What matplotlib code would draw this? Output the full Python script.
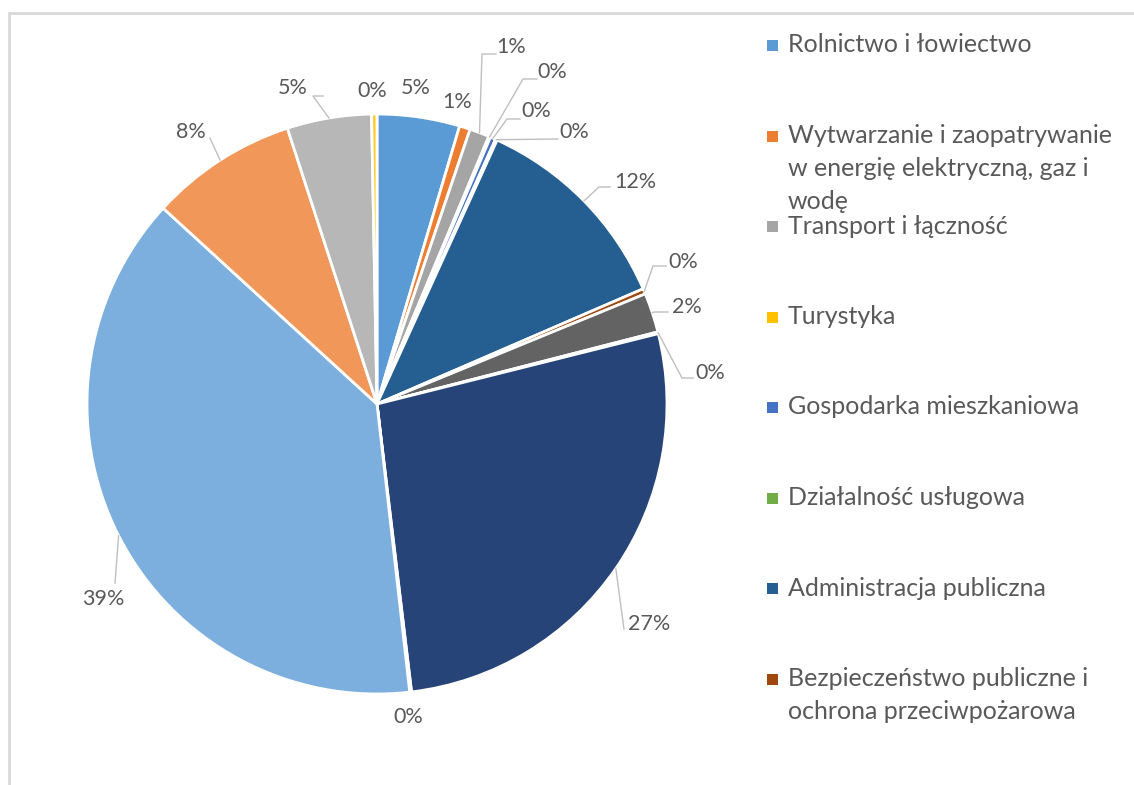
import numpy as np
import matplotlib.pyplot as plt
from matplotlib.patches import Rectangle

# slice shares in %, clockwise from 12 o'clock
values = [4.6, 0.6, 1.1, 0.1, 0.3, 0.1, 11.7, 0.3, 2.2, 0.1, 27.0, 0.1, 38.6, 8.2, 4.7, 0.3]
colors = ['#5B9BD5', '#ED7D31', '#A5A5A5', '#FFC000', '#4472C4', '#70AD47',
          '#255E91', '#9E480E', '#636363', '#997300', '#264478', '#43682B',
          '#7CAFDD', '#F1975A', '#B7B7B7', '#FFCD33']
# only the first eight entries fit in the legend
legend_labels = ['Rolnictwo i łowiectwo',
                 'Wytwarzanie i zaopatrywanie\nw energię elektryczną, gaz i\nwodę',
                 'Transport i łączność',
                 'Turystyka',
                 'Gospodarka mieszkaniowa',
                 'Działalność usługowa',
                 'Administracja publiczna',
                 'Bezpieczeństwo publiczne i\nochrona przeciwpożarowa']

W, H = 1134, 785
CX, CY, R = 377, 404, 290
TXT = '#595959'
LINE = '#BFBFBF'

# label centre (image px) and leader-line points from label side (image px)
label_pos = [(416, 88), (457, 102), (511, 47), (552, 72), (536, 111), (574, 132),
             (635, 182), (683, 262), (687, 307), (710, 373), (649, 624), (408, 717),
             (103, 599), (191, 132), (293, 88), (372, 91)]
leaders = [None, None, [(496, 54), (482, 54)], [(537, 79), (523, 79)],
           [(520, 119), (507, 119)], [(558, 139)], [(610, 187), (599, 187)],
           [(666, 266), (653, 266)], [(668, 312), (654, 312)], [(693, 378), (682, 378)],
           [(624, 629)], None, [(115, 583)], [(210, 138)],
           [(323, 96), (313, 96)], None]

plt.rcParams['font.family'] = ['Lato', 'DejaVu Sans']

fig = plt.figure(figsize=(W / 100, H / 100), dpi=100)
fig.patches.append(Rectangle((9 / W, -0.1), 1.2, (H - 13) / H + 0.1, transform=fig.transFigure,
                             fill=False, edgecolor='#D9D9D9', linewidth=2))

ax = fig.add_axes([(CX - R) / W, (H - CY - R) / H, 2 * R / W, 2 * R / H])
wedges, _ = ax.pie(values, colors=colors, startangle=90, counterclock=False,
                   radius=1, wedgeprops=dict(edgecolor='white', linewidth=2))
ax.set_xlim(-1, 1)
ax.set_ylim(-1, 1)
ax.axis('off')


def to_data(p):
    return (p[0] - CX) / R, (CY - p[1]) / R


total = sum(values)
for i, w in enumerate(wedges):
    pct = values[i] / total * 100
    lx, ly = to_data(label_pos[i])
    ax.text(lx, ly, f'{pct:.0f}%', ha='center', va='center', fontsize=15.5,
            color=TXT, clip_on=False)
    if leaders[i]:
        mid = np.deg2rad((w.theta1 + w.theta2) / 2)
        pts = [to_data(p) for p in leaders[i]] + [(np.cos(mid), np.sin(mid))]
        xs, ys = zip(*pts)
        ax.plot(xs, ys, color=LINE, linewidth=1, clip_on=False)

# legend drawn by hand, fixed row pitch like the original
for k, lab in enumerate(legend_labels):
    y = 45 + k * 90.5
    fig.patches.append(Rectangle((767 / W, 1 - (y + 6) / H), 11 / W, 11 / H,
                                 transform=fig.transFigure, facecolor=colors[k],
                                 edgecolor='none'))
    for j, line in enumerate(lab.split('\n')):
        fig.text(788 / W, 1 - (y + j * 33) / H, line, ha='left', va='center',
                 fontsize=18, color=TXT)

fig.savefig('out.png', dpi=100)
